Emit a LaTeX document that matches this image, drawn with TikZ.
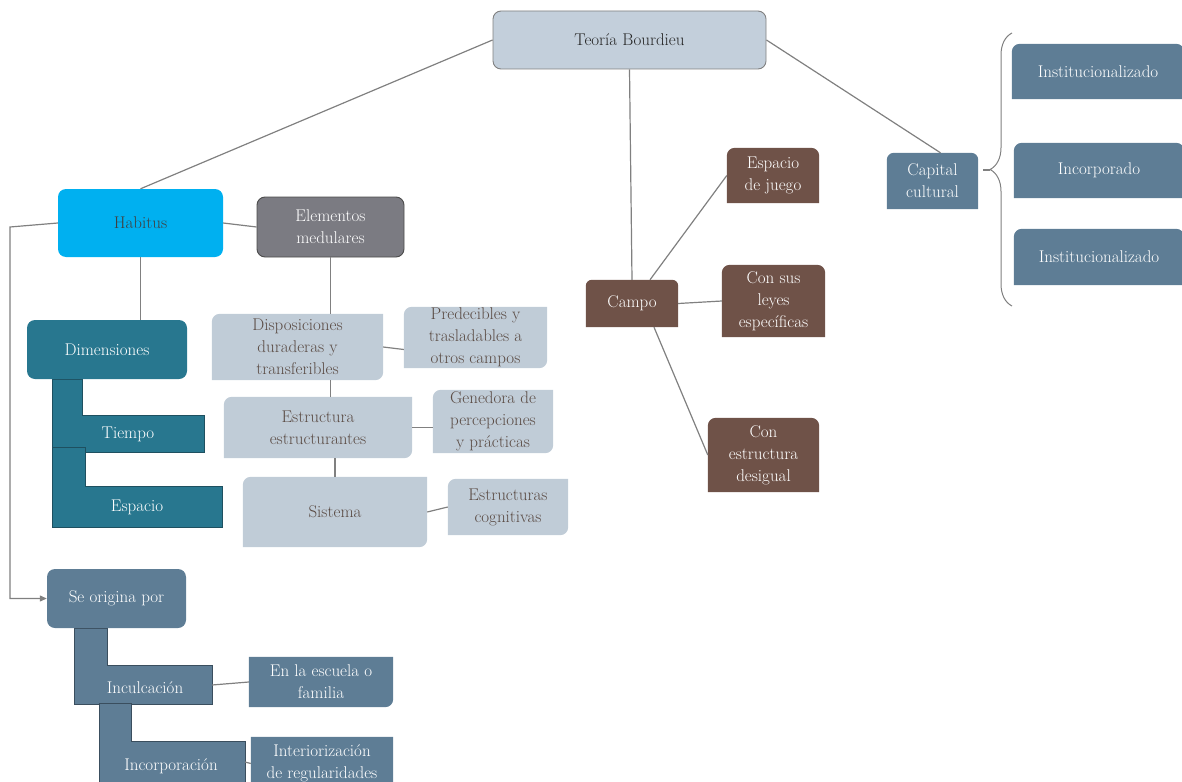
\documentclass[tikz,border=0pt]{standalone}
\usepackage{xcolor}
\usepackage{tikz}
\usetikzlibrary{positioning, calc, arrows.meta, backgrounds, decorations.pathreplacing}
\definecolor{bdLine}{RGB}{128,128,128}
\definecolor{bdTop}{RGB}{195,207,219}
\definecolor{bdCyan}{RGB}{0,176,240}
\definecolor{bdGray}{RGB}{123,123,130}
\definecolor{bdTeal}{RGB}{40,119,143}
\definecolor{bdTealDark}{RGB}{30,80,96}
\definecolor{bdPale}{RGB}{192,204,215}
\definecolor{bdPaleText}{RGB}{90,75,68}
\definecolor{bdBrown}{RGB}{111,82,72}
\definecolor{bdSlate}{RGB}{94,125,149}
\definecolor{bdSlateDark}{RGB}{58,78,94}
\tikzset{
    base/.style={
        font=\fontsize{17}{22}\selectfont,
        align=center,
        inner sep=0pt
    },
    topbox/.style={
        base,
        rectangle,
        rounded corners=8pt,
        draw=bdLine,
        line width=0.9pt,
        fill=bdTop,
        text=black!85
    },
    cyanbox/.style={
        base,
        rounded corners=8pt,
        fill=bdCyan,
        text=black!75
    },
    graybox/.style={
        base,
        rounded corners=8pt,
        draw=black!70,
        line width=0.9pt,
        fill=bdGray,
        text=white
    },
    tealbox/.style={
        base,
        rounded corners=8pt,
        fill=bdTeal,
        text=white
    },
    slatebox/.style={
        base,
        rounded corners=8pt,
        fill=bdSlate,
        text=white
    },
    boxtext/.style={
        base,
        text=white
    },
    paletext/.style={
        base,
        text=bdPaleText
    },
    link/.style={
        draw=bdLine,
        line width=1.2pt
    },
    ell/.style={
        line width=0.8pt
    },
    brace/.style={
        draw=bdLine,
        line width=1pt,
        decorate,
        decoration={brace, amplitude=22pt}
    }
}
% fill behind a node, radius per corner: nw, ne, se, sw
\newcommand{\boxfill}[6]{%
  \fill[#1] (#2.west) [rounded corners=#3] -- (#2.north west) [rounded corners=#4] -- (#2.north east)
    [rounded corners=#5] -- (#2.south east) [rounded corners=#6] -- (#2.south west)
    [sharp corners] -- cycle;}

\begin{document}
\begin{tikzpicture}[x=1pt, y=-1pt]
  \useasboundingbox (0,0) rectangle (1182,781);

  % Top
  \node[topbox, minimum width=273pt, minimum height=58pt] (teoria) at (629.5,40) {Teoría Bourdieu};

  % Habitus
  \node[cyanbox, minimum width=165pt, minimum height=68pt] (habitus) at (140.5,223) {Habitus};
  \node[graybox, minimum width=147pt, minimum height=60pt] (elem) at (330.5,227) {Elementos\\medulares};
  \node[tealbox, minimum width=160pt, minimum height=59pt] (dimen) at (107,349.5) {Dimensiones};
  \node[boxtext] (tiempo) at (128,434) {Tiempo};
  \node[boxtext] (espacio) at (137,507) {Espacio};

  \node[paletext, minimum width=171pt, minimum height=66pt] (disp) at (297.5,347) {Disposiciones\\duraderas y\\transferibles};
  \node[paletext, minimum width=143pt, minimum height=61pt] (pred) at (475.5,337.5) {Predecibles y\\trasladables a\\otros campos};
  \node[paletext, minimum width=188pt, minimum height=61pt] (estr) at (318,427.5) {Estructura\\estructurantes};
  \node[paletext, minimum width=120pt, minimum height=63pt] (gen) at (493,421.5) {Genedora de\\percepciones\\y prácticas};
  \node[paletext, minimum width=184pt, minimum height=70pt] (sist) at (335,512) {Sistema};
  \node[paletext, minimum width=120pt, minimum height=56pt] (cogn) at (508,507) {Estructuras\\cognitivas};

  % Origin
  \node[slatebox, minimum width=139pt, minimum height=59pt] (seorig) at (116.5,598.5) {Se origina por};
  \node[boxtext] (inculc) at (145,688) {Inculcación};
  \node[boxtext] (incorp) at (171,766) {Incorporación};
  \node[boxtext, minimum width=144pt, minimum height=50pt] (escuela) at (321,682) {En la escuela o\\familia};
  \node[boxtext, minimum width=142pt, minimum height=53pt] (interior) at (322,763.5) {Interiorización\\de regularidades};

  % Campo
  \node[boxtext, minimum width=92pt, minimum height=47pt] (campo) at (632,303.5) {Campo};
  \node[boxtext, minimum width=92pt, minimum height=55pt] (juego) at (773,175.5) {Espacio\\de juego};
  \node[boxtext, minimum width=103pt, minimum height=72pt] (leyes) at (773.5,301) {Con sus\\leyes\\específicas};
  \node[boxtext, minimum width=111pt, minimum height=74pt] (desig) at (763.5,455) {Con\\estructura\\desigual};

  % Capital
  \node[boxtext, minimum width=91pt, minimum height=56pt] (capital) at (932.5,181) {Capital\\cultural};
  \node[boxtext, minimum width=172pt, minimum height=55pt] (inst1) at (1098,71.5) {Institucionalizado};
  \node[boxtext, minimum width=170pt, minimum height=55pt] (incorpd) at (1099,170.5) {Incorporado};
  \node[boxtext, minimum width=170pt, minimum height=56pt] (inst2) at (1099,257) {Institucionalizado};

  \begin{scope}[on background layer]
    \boxfill{bdPale}{disp}{8pt}{0pt}{8pt}{0pt}
    \boxfill{bdPale}{pred}{8pt}{0pt}{8pt}{0pt}
    \boxfill{bdPale}{estr}{8pt}{0pt}{8pt}{0pt}
    \boxfill{bdPale}{gen}{8pt}{0pt}{8pt}{0pt}
    \boxfill{bdPale}{sist}{8pt}{0pt}{8pt}{0pt}
    \boxfill{bdPale}{cogn}{8pt}{0pt}{8pt}{0pt}
    \boxfill{bdBrown}{campo}{6pt}{6pt}{0pt}{0pt}
    \boxfill{bdBrown}{juego}{8pt}{8pt}{0pt}{0pt}
    \boxfill{bdBrown}{leyes}{8pt}{8pt}{0pt}{0pt}
    \boxfill{bdBrown}{desig}{8pt}{8pt}{0pt}{0pt}
    \boxfill{bdSlate}{capital}{7pt}{7pt}{0pt}{0pt}
    \boxfill{bdSlate}{inst1}{8pt}{8pt}{0pt}{0pt}
    \boxfill{bdSlate}{incorpd}{8pt}{8pt}{0pt}{0pt}
    \boxfill{bdSlate}{inst2}{8pt}{8pt}{0pt}{0pt}
    \boxfill{bdSlate}{escuela}{0pt}{0pt}{8pt}{0pt}
    \boxfill{bdSlate}{interior}{0pt}{0pt}{8pt}{0pt}
    % steps
    \filldraw[fill=bdTeal, draw=bdTealDark, ell] (52,379) -- (82,379) -- (82,415) -- (204,415) -- (204,452) -- (52,452) -- cycle;
    \filldraw[fill=bdTeal, draw=bdTealDark, ell] (52,447) -- (85,447) -- (85,486) -- (222,486) -- (222,527) -- (52,527) -- cycle;
    \filldraw[fill=bdSlate, draw=bdSlateDark, ell] (74,628) -- (107,628) -- (107,665) -- (212,665) -- (212,704) -- (74,704) -- cycle;
    \filldraw[fill=bdSlate, draw=bdSlateDark, ell] (99,703) -- (131,703) -- (131,741) -- (245,741) -- (245,790) -- (99,790) -- cycle;
  \end{scope}

  % Connectors
  \draw[link] (teoria.west) -- (habitus.north);
  \draw[link] (teoria.south) -- (campo.north);
  \draw[link] (teoria.east) -- ([xshift=8pt]capital.north);
  \draw[link] (habitus.east) -- (elem.west);
  \draw[link] (habitus.south) -- (habitus.south |- dimen.north);
  \coordinate (bend) at (10,227);
  \draw[link, -{Triangle[length=7pt, width=6pt]}] (habitus.west) -- (bend) -- (bend |- seorig.west) -- (seorig.west);
  \draw[link] (elem.south) -- (elem.south |- disp.north);
  \draw[link] (elem.south |- disp.south) -- (elem.south |- estr.north);
  \draw[link] (sist.north |- estr.south) -- (sist.north);
  \draw[link] (disp.east) -- ([yshift=-12pt]pred.west);
  \draw[link] (estr.east) -- (estr.east -| gen.west);
  \draw[link] (sist.east) -- (cogn.west);
  \draw[link] ([xshift=18pt]campo.north) -- (juego.west);
  \draw[link] (campo.east) -- (leyes.west);
  \draw[link] ([xshift=22pt]campo.south) -- (desig.west);
  \coordinate (inculcR) at (212,685);
  \coordinate (incorpR) at (245,762);
  \draw[link] (inculcR) -- (escuela.west);
  \draw[link] (incorpR) -- (interior.west);
  \coordinate (bracetip) at (990,170);
  \draw[link] ([xshift=5pt]capital.east |- bracetip) -- (bracetip);
  \draw[brace] (1012,306) -- (1012,33);
\end{tikzpicture}
\end{document}
